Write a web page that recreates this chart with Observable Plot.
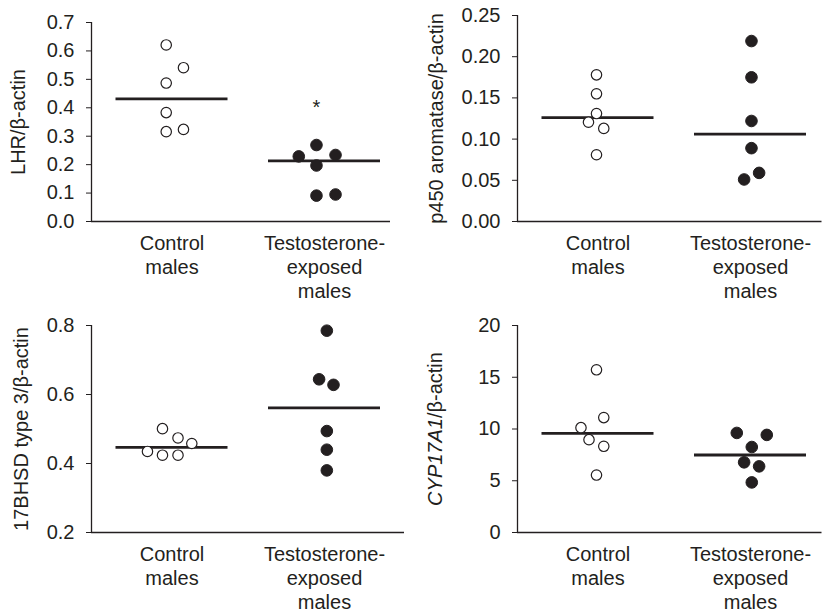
<!DOCTYPE html>
<html><head><meta charset="utf-8">
<script src="https://cdn.jsdelivr.net/npm/d3@7"></script>
<script src="https://cdn.jsdelivr.net/npm/@observablehq/plot@0.6"></script>
<style>
body{margin:0;background:#fff;}
#wrap{position:relative;width:823px;height:613px;background:#fff;}
.panel{position:absolute;}
.panel svg{max-width:none;overflow:visible;}
</style></head><body><div id="wrap"></div>
<script>
// Categories
const groups = ["Control\nmales", "Testosterone-\nexposed\nmales"];

// Panel 1: LHR/β-actin
const lhrControl = [0.621, 0.541, 0.487, 0.383, 0.316, 0.324];
const lhrControlJitter = [-0.77, 1.53, -0.77, -0.77, -0.77, 1.53];
const lhrTreated = [0.269, 0.229, 0.234, 0.197, 0.091, 0.095];
const lhrTreatedJitter = [-1.07, -3.43, 1.47, -1.07, -1.07, 1.47];
const lhrMeans = [0.431, 0.213];
const lhrTicks = [0, 0.1, 0.2, 0.3, 0.4, 0.5, 0.6, 0.7];
const lhrStar = [{g: 2, j: -1.07, v: 0.419}];

// Panel 2: p450 aromatase/β-actin
const aroControl = [0.178, 0.155, 0.131, 0.1205, 0.113, 0.081];
const aroControlJitter = [-0.2, -0.2, -0.2, -1.27, 0.77, -0.2];
const aroTreated = [0.219, 0.175, 0.122, 0.089, 0.051, 0.059];
const aroTreatedJitter = [0.13, 0.13, 0.13, 0.13, -0.85, 1.15];
const aroMeans = [0.126, 0.106];
const aroTicks = [0, 0.05, 0.10, 0.15, 0.20, 0.25];

// Panel 3: 17BHSD type 3/β-actin
const hsdControl = [0.501, 0.474, 0.458, 0.435, 0.424, 0.424];
const hsdControlJitter = [-1.27, 0.8, 2.64, -3.27, -1.27, 0.8];
const hsdTreated = [0.785, 0.644, 0.628, 0.494, 0.440, 0.380];
const hsdTreatedJitter = [0.31, -0.72, 1.2, 0.31, 0.31, 0.31];
const hsdMeans = [0.447, 0.561];
const hsdTicks = [0.2, 0.4, 0.6, 0.8];

// Panel 4: CYP17A1/β-actin
const cypControl = [15.72, 11.1, 10.13, 8.97, 8.33, 5.55];
const cypControlJitter = [-0.2, 0.77, -2.27, -1.2, 0.77, -0.2];
const cypTreated = [9.62, 9.43, 8.26, 6.78, 6.39, 4.84];
const cypTreatedJitter = [-1.83, 2.17, 0.17, -0.85, 1.15, 0.17];
const cypMeans = [9.58, 7.49];
const cypTicks = [0, 5, 10, 15, 20];

const FONT = '"Liberation Sans", Arial, Helvetica, sans-serif';
const INK = "#231f20";
const GROUP_OFFSET = 80.5, GROUP_GAP = 152.5, STEP = 7.5, HALF_LINE = 56;

function panel(c) {
  const pw = c.width - c.ml - c.mr;
  const lo = 1 - GROUP_OFFSET / GROUP_GAP;
  const hi = lo + pw / GROUP_GAP;
  const ctrl = c.ctrl.map((v, i) => ({g: 1, v, j: c.ctrlJ[i]}));
  const trt = c.trt.map((v, i) => ({g: 2, v, j: c.trtJ[i]}));
  const meanData = c.means.map((m, i) => ({g: i + 1, m}));
  const xOf = d => d.g + d.j * STEP / GROUP_GAP;
  const marks = [
    Plot.ruleX([lo], {stroke: INK, strokeWidth: 1.3}),
    Plot.ruleY([c.yDomain[0]], {stroke: INK, strokeWidth: 1.3}),
    Plot.axisY({ticks: c.ticks, tickFormat: c.fmt, tickSize: 5, tickPadding: 12,
      label: c.label, labelAnchor: "center", labelArrow: "none", labelOffset: c.labelOffset, fontSize: 20,
      stroke: INK, fill: INK}),
    Plot.text(groups, {x: (d, i) => i + 1, frameAnchor: "bottom", lineAnchor: "top",
      dy: 11, lineHeight: 1.2, fontSize: 20, fill: INK, text: d => d}),
    Plot.ruleY(meanData, {y: "m", x1: d => d.g - HALF_LINE / GROUP_GAP,
      x2: d => d.g + HALF_LINE / GROUP_GAP, stroke: INK, strokeWidth: 2.8}),
    Plot.dot(ctrl, {x: xOf, y: "v", r: 5.2, fill: "white", stroke: INK, strokeWidth: 1.2}),
    Plot.dot(trt, {x: xOf, y: "v", r: 5.8, fill: INK, stroke: INK, strokeWidth: 1})
  ];
  if (c.star) marks.push(Plot.text(c.star, {x: xOf, y: "v", text: () => "*", fontSize: 20, dy: 5, fill: INK}));
  const svg = Plot.plot({
    width: c.width, height: c.height,
    marginLeft: c.ml, marginRight: c.mr, marginTop: c.mt, marginBottom: c.mb,
    style: {fontFamily: FONT, color: INK, background: "white"},
    x: {domain: [lo, hi], axis: null},
    y: {domain: c.yDomain, axis: null},
    marks
  });
  // Tidy the axis title: no arrow, larger font, optional italic gene name
  svg.querySelectorAll("text").forEach(t => {
    const s = t.textContent.replace(/\s*[→↑]\s*$/, "").replace(/^\s*[↑→]\s*/, "");
    if (s === c.label) {
      while (t.firstChild) t.removeChild(t.firstChild);
      t.setAttribute("font-size", "20");
      if (c.italic) {
        const a = document.createElementNS("http://www.w3.org/2000/svg", "tspan");
        a.setAttribute("font-style", "italic");
        a.textContent = c.italic;
        const b = document.createElementNS("http://www.w3.org/2000/svg", "tspan");
        b.textContent = c.label.slice(c.italic.length);
        t.appendChild(a); t.appendChild(b);
      } else {
        t.textContent = c.label;
      }
      const g = t.parentNode;
      if (g && g.tagName === "g") g.setAttribute("font-size", "20");
    }
  });
  const div = document.createElement("div");
  div.className = "panel";
  div.style.left = c.left + "px";
  div.style.top = c.top + "px";
  div.appendChild(svg);
  document.getElementById("wrap").appendChild(div);
}

panel({left: 0, top: 0, width: 410, height: 305, ml: 91, mr: 20, mt: 22, mb: 84, labelOffset: 81,
  ctrl: lhrControl, ctrlJ: lhrControlJitter, trt: lhrTreated, trtJ: lhrTreatedJitter, means: lhrMeans,
  yDomain: [0, 0.7], ticks: lhrTicks, fmt: d3.format(".1f"), label: "LHR/β-actin", star: lhrStar});
panel({left: 410, top: 0, width: 413, height: 305, ml: 107, mr: 1.5, mt: 15, mb: 84, labelOffset: 89,
  ctrl: aroControl, ctrlJ: aroControlJitter, trt: aroTreated, trtJ: aroTreatedJitter, means: aroMeans,
  yDomain: [0, 0.25], ticks: aroTicks, fmt: d3.format(".2f"), label: "p450 aromatase/β-actin"});
panel({left: 0, top: 305, width: 410, height: 308, ml: 91, mr: 6, mt: 20, mb: 81, labelOffset: 78,
  ctrl: hsdControl, ctrlJ: hsdControlJitter, trt: hsdTreated, trtJ: hsdTreatedJitter, means: hsdMeans,
  yDomain: [0.2, 0.8], ticks: hsdTicks, fmt: d3.format(".1f"), label: "17BHSD type 3/β-actin"});
panel({left: 410, top: 305, width: 413, height: 308, ml: 107, mr: 1.5, mt: 20, mb: 81, labelOffset: 90,
  ctrl: cypControl, ctrlJ: cypControlJitter, trt: cypTreated, trtJ: cypTreatedJitter, means: cypMeans,
  yDomain: [0, 20], ticks: cypTicks, fmt: d3.format("d"), label: "CYP17A1/β-actin", italic: "CYP17A1"});
</script></body></html>
